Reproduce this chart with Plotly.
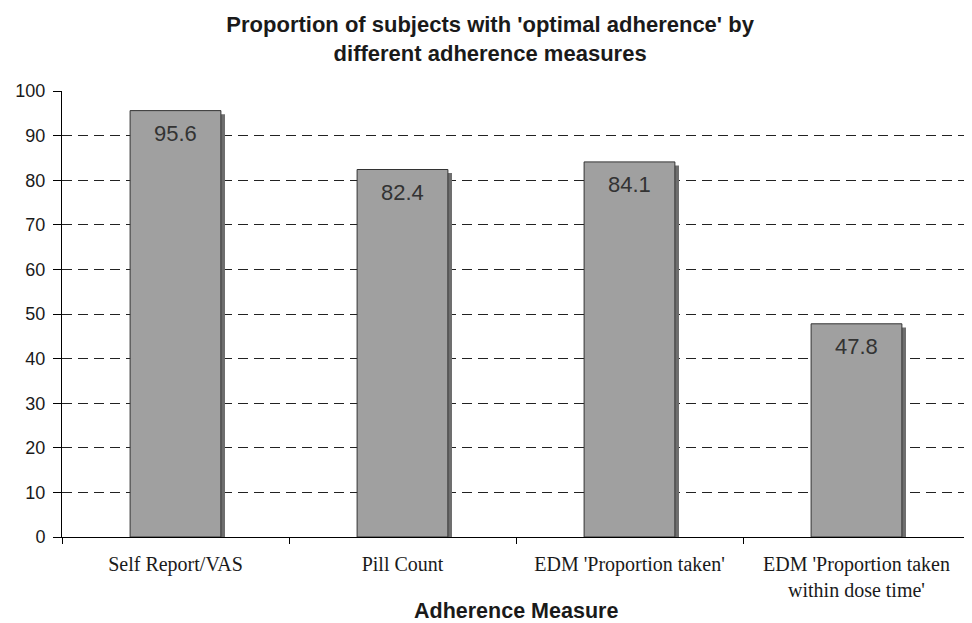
import plotly.graph_objects as go

categories = ["Self Report/VAS", "Pill Count", "EDM 'Proportion taken'",
              "EDM 'Proportion taken<br>within dose time'"]
values = [95.6, 82.4, 84.1, 47.8]
value_labels = ["95.6", "82.4", "84.1", "47.8"]
y_ticks = [0, 10, 20, 30, 40, 50, 60, 70, 80, 90, 100]

SANS = "Liberation Sans, Arial"
SERIF = "Liberation Serif, Times New Roman"

fig = go.Figure()
# drop shadow (style only: same values, offset slightly)
fig.add_trace(go.Bar(
    x=categories, y=values, base=-0.8, width=0.4, offset=-0.2 + 0.018,
    marker=dict(color="#6e6e6e", line=dict(width=0)),
    hoverinfo="skip", showlegend=False,
))
fig.add_trace(go.Bar(
    x=categories, y=values, width=0.4, offset=-0.2,
    marker=dict(color="#a0a0a0", line=dict(color="#333333", width=1)),
    showlegend=False,
))

# value labels placed inside the top of each bar
for c, v, lab in zip(categories, values, value_labels):
    fig.add_annotation(x=c, y=v, text=lab, showarrow=False,
                       xanchor="center", yanchor="middle", yshift=-23,
                       font=dict(family=SANS, size=22, color="#333333"))

# axis title
fig.add_annotation(x=0.5, y=0, xref="paper", yref="paper", text="<b>Adherence Measure</b>",
                   showarrow=False, xanchor="center", yanchor="middle", yshift=-74,
                   font=dict(family=SANS, size=21.5, color="#1a1a1a"))

fig.update_layout(
    width=972, height=623,
    margin=dict(l=54, r=10, t=83, b=94),
    paper_bgcolor="white", plot_bgcolor="white",
    barmode="overlay",
    title=dict(
        text="<b>Proportion of subjects with 'optimal adherence' by<br>different adherence measures</b>",
        x=0.496, xanchor="center", y=0.9615, yanchor="middle",
        font=dict(family=SANS, size=22, color="#1a1a1a"),
        automargin=False,
    ),
    font=dict(family=SANS, color="#1a1a1a"),
)

fig.update_yaxes(
    range=[0, 100], tickvals=y_ticks, ticktext=[str(t) for t in y_ticks],
    showgrid=True, gridcolor="#222222", gridwidth=1, griddash="10px,6px",
    zeroline=False, showline=True, linecolor="#000000", linewidth=1,
    ticks="outside", ticklen=8, tickcolor="#000000", ticklabelstandoff=4,
    tickfont=dict(family=SANS, size=18, color="#1a1a1a"),
    automargin=False,
)
fig.update_xaxes(
    showline=True, linecolor="#000000", linewidth=1,
    ticks="outside", ticklen=6, tickcolor="#000000", tickson="boundaries",
    ticklabelstandoff=9,
    tickfont=dict(family=SERIF, size=20, color="#1a1a1a"),
    automargin=False,
)

fig.write_html("out.html")
